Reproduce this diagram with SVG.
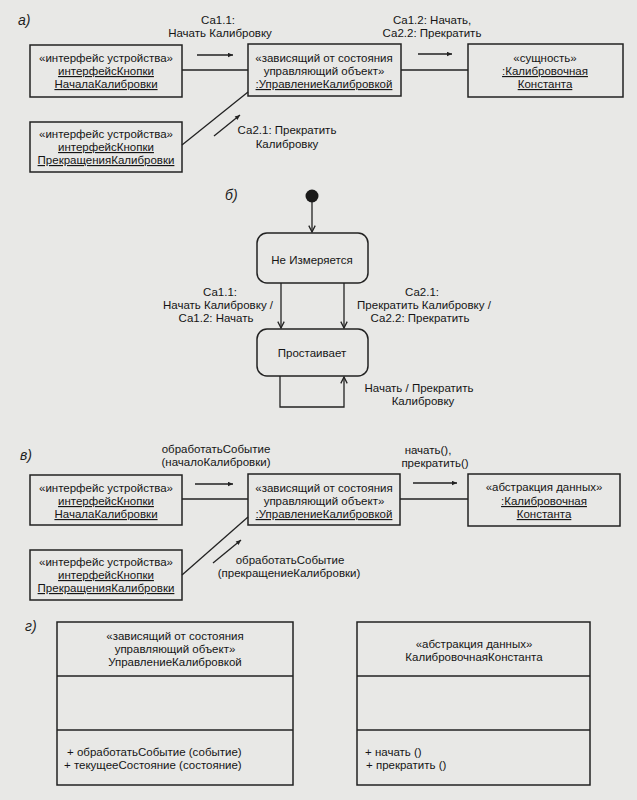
<svg xmlns="http://www.w3.org/2000/svg" width="637" height="800" viewBox="0 0 637 800">
<defs>
<style>
.bg{fill:#e8e8e6}
.box{fill:none;stroke:#222;stroke-width:1.5}
.ln{fill:none;stroke:#222;stroke-width:1.3}
.t{font-family:"Liberation Sans",Arial,sans-serif;font-size:11.5px;fill:#151515;text-anchor:middle}
.l{text-anchor:start}
.u{text-decoration:underline}
.lbl{font-family:"Liberation Sans",Arial,sans-serif;font-size:14px;font-style:italic;fill:#1e1e1e}
</style>
<marker id="ah" viewBox="0 0 10 10" refX="10" refY="5" markerWidth="8" markerHeight="5" orient="auto" markerUnits="userSpaceOnUse"><path d="M0,0.5 L10,5 L0,9.5 z" fill="#222"/></marker>
<marker id="oa" viewBox="0 0 10 10" refX="9" refY="5" markerWidth="8" markerHeight="8" orient="auto" markerUnits="userSpaceOnUse"><path d="M1,1 L9,5 L1,9" fill="none" stroke="#222" stroke-width="1.6"/></marker>
</defs>
<rect class="bg" x="0" y="0" width="637" height="800"/>

<!-- section labels -->
<text class="lbl" x="18" y="25">а)</text>
<text class="lbl" x="225" y="200">б)</text>
<text class="lbl" x="20" y="460">в)</text>
<text class="lbl" x="25" y="631">г)</text>

<!-- ===== а) ===== -->
<g id="a_btnStart">
<rect class="box" x="30" y="45" width="152" height="52"/>
<text class="t" x="106" y="62">«интерфейс устройства»</text>
<text class="t u" x="106" y="75">интерфейсКнопки</text>
<text class="t u" x="106" y="88">НачалаКалибровки</text>
</g>
<g id="a_btnStop">
<rect class="box" x="30" y="122" width="152" height="50"/>
<text class="t" x="106" y="138">«интерфейс устройства»</text>
<text class="t u" x="106" y="151">интерфейсКнопки</text>
<text class="t u" x="106" y="164">ПрекращенияКалибровки</text>
</g>
<g id="a_ctrl">
<rect class="box" x="248" y="44" width="153" height="52"/>
<text class="t" x="324" y="62">«зависящий от состояния</text>
<text class="t" x="324" y="75">управляющий объект»</text>
<text class="t u" x="324" y="88">:УправлениеКалибровкой</text>
</g>
<g id="a_const">
<rect class="box" x="468" y="44" width="155" height="53"/>
<text class="t" x="545" y="62">«сущность»</text>
<text class="t u" x="545" y="75">:Калибровочная</text>
<text class="t u" x="545" y="88">Константа</text>
</g>
<g id="a_connectors">
<line class="ln" x1="182" y1="70" x2="248" y2="70"/>
<line class="ln" x1="401" y1="70" x2="468" y2="70"/>
<line class="ln" x1="182" y1="145" x2="248" y2="92"/>
<line class="ln" x1="197" y1="55" x2="233" y2="55" marker-end="url(#ah)"/>
<line class="ln" x1="418" y1="54" x2="452" y2="54" marker-end="url(#ah)"/>
<line class="ln" x1="214" y1="136" x2="240" y2="115" marker-end="url(#ah)"/>
<text class="t" x="218" y="24">Са1.1:</text>
<text class="t" x="220" y="37">Начать Калибровку</text>
<text class="t" x="432" y="24">Са1.2: Начать,</text>
<text class="t" x="432" y="37">Са2.2: Прекратить</text>
<text class="t" x="287" y="134">Са2.1: Прекратить</text>
<text class="t" x="287" y="148">Калибровку</text>
</g>

<!-- ===== б) ===== -->
<g id="b_init">
<circle cx="312" cy="196" r="6.5" fill="#1a1a1a"/>
</g>
<g id="b_notMeasuring">
<rect class="box" x="257" y="233" width="111" height="50" rx="10"/>
<text class="t" x="312" y="264">Не Измеряется</text>
</g>
<g id="b_idle">
<rect class="box" x="257" y="329" width="111" height="47" rx="10"/>
<text class="t" x="312" y="357">Простаивает</text>
</g>
<g id="b_connectors">
<line class="ln" x1="312" y1="202" x2="312" y2="232" marker-end="url(#oa)"/>
<line class="ln" x1="281" y1="283" x2="281" y2="328" marker-end="url(#oa)"/>
<line class="ln" x1="344" y1="283" x2="344" y2="328" marker-end="url(#oa)"/>
<polyline class="ln" points="280,376 280,407 344,407 344,377" marker-end="url(#oa)"/>
<text class="t" x="220" y="296">Са1.1:</text>
<text class="t" x="218" y="309">Начать Калибровку /</text>
<text class="t" x="216" y="322">Са1.2: Начать</text>
<text class="t" x="422" y="296">Са2.1:</text>
<text class="t" x="424" y="309">Прекратить Калибровку /</text>
<text class="t" x="420" y="322">Са2.2: Прекратить</text>
<text class="t" x="419" y="392">Начать / Прекратить</text>
<text class="t" x="423" y="405">Калибровку</text>
</g>

<!-- ===== в) ===== -->
<g id="c_btnStart">
<rect class="box" x="30" y="475" width="152" height="50"/>
<text class="t" x="106" y="492">«интерфейс устройства»</text>
<text class="t u" x="106" y="505">интерфейсКнопки</text>
<text class="t u" x="106" y="518">НачалаКалибровки</text>
</g>
<g id="c_btnStop">
<rect class="box" x="30" y="550" width="152" height="50"/>
<text class="t" x="106" y="566">«интерфейс устройства»</text>
<text class="t u" x="106" y="579">интерфейсКнопки</text>
<text class="t u" x="106" y="592">ПрекращенияКалибровки</text>
</g>
<g id="c_ctrl">
<rect class="box" x="248" y="474" width="152" height="51"/>
<text class="t" x="324" y="492">«зависящий от состояния</text>
<text class="t" x="324" y="505">управляющий объект»</text>
<text class="t u" x="324" y="518">:УправлениеКалибровкой</text>
</g>
<g id="c_const">
<rect class="box" x="468" y="474" width="152" height="52"/>
<text class="t" x="544" y="491">«абстракция данных»</text>
<text class="t u" x="544" y="505">:Калибровочная</text>
<text class="t u" x="544" y="518">Константа</text>
</g>
<g id="c_connectors">
<line class="ln" x1="182" y1="499" x2="248" y2="499"/>
<line class="ln" x1="400" y1="499" x2="468" y2="499"/>
<line class="ln" x1="182" y1="575" x2="248" y2="517"/>
<line class="ln" x1="195" y1="484" x2="233" y2="484" marker-end="url(#ah)"/>
<line class="ln" x1="413" y1="483" x2="457" y2="483" marker-end="url(#ah)"/>
<line class="ln" x1="213" y1="563" x2="241" y2="540" marker-end="url(#ah)"/>
<text class="t" x="216" y="453">обработатьСобытие</text>
<text class="t" x="216" y="466">(началоКалибровки)</text>
<text class="t" x="428" y="454">начать(),</text>
<text class="t" x="435" y="467">прекратить()</text>
<text class="t" x="290" y="564">обработатьСобытие</text>
<text class="t" x="289" y="577">(прекращениеКалибровки)</text>
</g>

<!-- ===== г) ===== -->
<g id="d_ctrlClass">
<rect class="box" x="57" y="622" width="236" height="163"/>
<line class="box" x1="57" y1="676" x2="293" y2="676"/>
<line class="box" x1="57" y1="730" x2="293" y2="730"/>
<text class="t" x="175" y="640">«зависящий от состояния</text>
<text class="t" x="175" y="653">управляющий объект»</text>
<text class="t" x="175" y="666">УправлениеКалибровкой</text>
<text class="t l" x="67" y="756">+ обработатьСобытие (событие)</text>
<text class="t l" x="64" y="769">+ текущееСостояние (состояние)</text>
</g>
<g id="d_constClass">
<rect class="box" x="357" y="622" width="233" height="163"/>
<line class="box" x1="357" y1="676" x2="590" y2="676"/>
<line class="box" x1="357" y1="730" x2="590" y2="730"/>
<text class="t" x="474" y="648">«абстракция данных»</text>
<text class="t" x="474" y="661">КалибровочнаяКонстанта</text>
<text class="t l" x="365" y="756">+ начать ()</text>
<text class="t l" x="366" y="769">+ прекратить ()</text>
</g>
</svg>
